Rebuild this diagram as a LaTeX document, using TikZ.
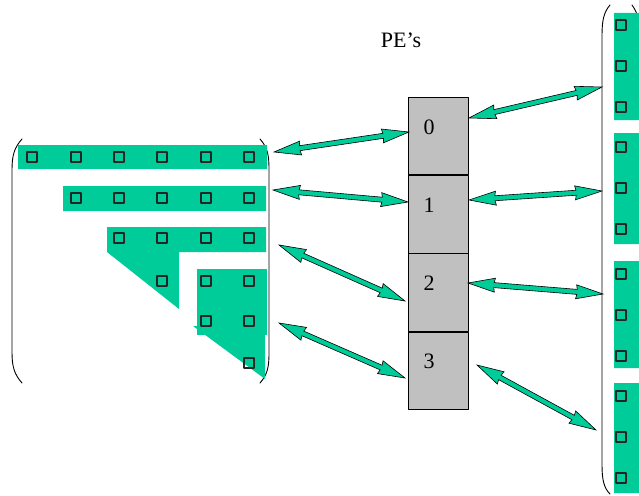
\documentclass[tikz,border=0pt]{standalone}
\usepackage{fontspec}
\setmainfont{Liberation Serif}
\usetikzlibrary{calc,positioning}
\definecolor{pegreen}{RGB}{0,204,153}
\definecolor{cellgray}{RGB}{192,192,192}
\newcommand\fatarrow[2]{%
\filldraw[fatarrow] let \p1=(#1),\p2=(#2),\n1={atan2(\y2-\y1,\x2-\x1)},\n2={veclen(\x2-\x1,\y2-\y1)} in
 [shift={(\p1)},rotate=\n1] (0pt,0pt)--(27pt,7pt)--(26pt,2.5pt)--({\n2-26pt},2.5pt)--({\n2-27pt},7pt)--({\n2+0pt},0pt)
 --({\n2-27pt},-7pt)--({\n2-26pt},-2.5pt)--(26pt,-2.5pt)--(27pt,-7pt)--cycle;}
\begin{document}
\begin{tikzpicture}[x=1pt,y=-1pt,line join=round,line cap=round,
  font=\fontsize{22}{26}\selectfont,
  cell/.style={draw,fill=cellgray,line width=.7pt,minimum width=60pt,minimum height=77.5pt,inner sep=0pt},
  sq/.style={draw=black!85,line width=1.5pt},
  paren/.style={line width=.9pt},
  fatarrow/.style={fill=pegreen,draw=black,line width=.6pt,line join=miter}]
\useasboundingbox (0,0) rectangle (639,495);
% matrix on the left
\draw[paren] (22,139) .. controls (14,148) and (12,156) .. (12,170) -- (12,352) .. controls (12,366) and (14,374) .. (22,383);
\draw[paren] (260,139) .. controls (268,148) and (269,156) .. (269,170) -- (269,352) .. controls (269,366) and (268,374) .. (260,383);
\fill[pegreen] (18,145) rectangle (267,169) (63,186) rectangle (266,211) (107,227) rectangle (266,252);
\fill[pegreen] (107,252)--(179,252)--(179,309)--cycle;
\fill[pegreen] (197,269) rectangle (267,335);
\fill[pegreen] (193,326)--(265,326)--(265,379)--cycle;
\foreach \x/\y in {32/157,76/157,119/157,162/157,206/157,249/157,76/198,119/198,162/198,206/198,249/198,
 119/238,162/238,206/238,249/238,162/281,206/281,249/281,206/321,249/321,249/363}
 \draw[sq] (\x-5,\y-5) rectangle (\x+5,\y+5);
% vector on the right
\draw[paren] (610,5) .. controls (604,12) and (602,20) .. (602,35) -- (602,465) .. controls (602,480) and (604,488) .. (610,494);
\draw[paren] (632,5) .. controls (637,12) and (640,20) .. (640,35);
\fill[pegreen] (614,13) rectangle (640,120) (614,133) rectangle (640,244) (614,261) rectangle (640,368) (614,383) rectangle (640,493);
\foreach \y in {25,66,107,147,188,229,274,315,356,396,437,478}
 \draw[sq] (621-5,\y-5) rectangle (621+5,\y+5);
% processors
\node[cell] (pe0) at (438,136) {};
\node[cell,below=0pt of pe0] (pe1) {};
\node[cell,below=0pt of pe1] (pe2) {};
\node[cell,below=0pt of pe2] (pe3) {};
\foreach \i in {0,...,3}
 \node[anchor=base] (lab\i) at ([xshift=-9pt,yshift=2pt]pe\i.center) {\i};
\node[anchor=base] (title) at (401,48) {PE’s};
\coordinate (row1) at (274,152); \coordinate (row2) at (273,190);
\coordinate (row3) at (279,245); \coordinate (tri) at (279,323);
\coordinate (pe0l) at (409,132); \coordinate (pe1l) at (408,202);
\coordinate (pe2l) at (405,301); \coordinate (pe3l) at (405,378);
\coordinate (pe0r) at (469,118); \coordinate (pe1r) at (469,200);
\coordinate (pe2r) at (468,283); \coordinate (pe3r) at (477,365);
\coordinate (col1) at (602,87); \coordinate (col2) at (602,191);
\coordinate (col3) at (603,294); \coordinate (col4) at (596,430);
\fatarrow{row1}{pe0l} \fatarrow{row2}{pe1l} \fatarrow{row3}{pe2l} \fatarrow{tri}{pe3l}
\fatarrow{pe0r}{col1} \fatarrow{pe1r}{col2} \fatarrow{pe2r}{col3} \fatarrow{pe3r}{col4}
\end{tikzpicture}
\end{document}
